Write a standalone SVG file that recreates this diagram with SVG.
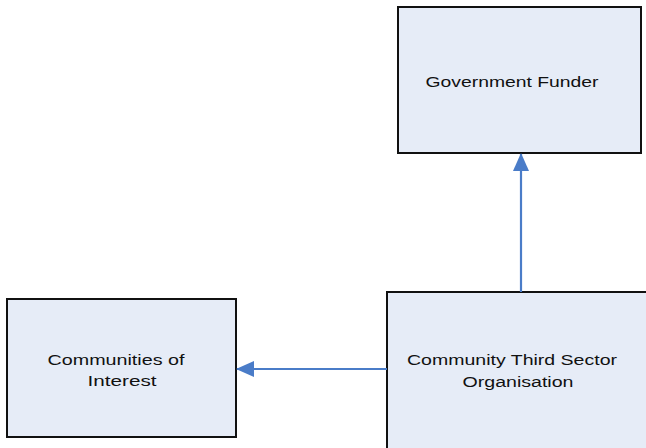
<svg xmlns="http://www.w3.org/2000/svg" width="646" height="448" viewBox="0 0 646 448">
<style>
.box{fill:#E6ECF7;stroke:#111;stroke-width:2}
.lbl{font-family:"Liberation Sans",Arial,sans-serif;font-size:14px;fill:#111;text-anchor:middle}
.conn{stroke:#4A7CC8;stroke-width:2.2;fill:none}
</style>
<defs>
<marker id="arr" viewBox="0 0 18 16" refX="17" refY="8" markerWidth="18" markerHeight="16" markerUnits="userSpaceOnUse" orient="auto">
<path d="M0,0 L18,8 L0,16 Z" fill="#4A7CC8"/>
</marker>
</defs>
<rect width="646" height="448" fill="#fff"/>
<g id="government-funder">
<rect class="box" x="398" y="7" width="243" height="146"/>
<text class="lbl" x="512" y="87" textLength="173" lengthAdjust="spacingAndGlyphs">Government Funder</text>
</g>
<g id="communities-of-interest">
<rect class="box" x="7" y="299" width="229" height="138"/>
<text class="lbl" x="116" y="365" textLength="137" lengthAdjust="spacingAndGlyphs">Communities of</text>
<text class="lbl" x="122" y="386" textLength="69" lengthAdjust="spacingAndGlyphs">Interest</text>
</g>
<g id="community-third-sector-organisation">
<rect class="box" x="387" y="292" width="270" height="170"/>
<text class="lbl" x="512" y="365" textLength="210" lengthAdjust="spacingAndGlyphs">Community Third Sector</text>
<text class="lbl" x="518" y="387" textLength="111" lengthAdjust="spacingAndGlyphs">Organisation</text>
</g>
<g id="connectors">
<line class="conn" x1="521" y1="292" x2="521" y2="154" marker-end="url(#arr)"/>
<line class="conn" x1="387" y1="369" x2="237" y2="369" marker-end="url(#arr)"/>
</g>
</svg>
